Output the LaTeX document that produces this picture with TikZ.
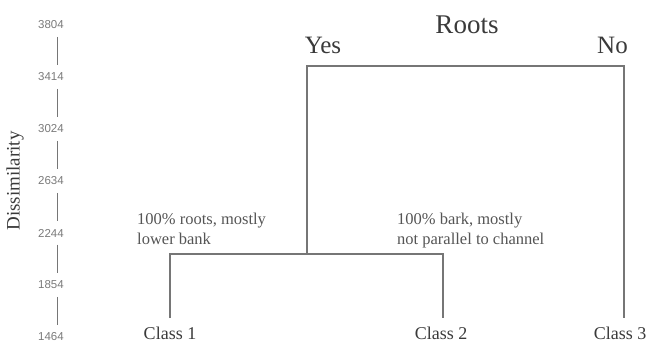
\documentclass[tikz,border=0pt]{standalone}
\usepackage{fontspec}
\setmainfont{Liberation Serif}
\newfontfamily\axisfont{Liberation Sans}
\definecolor{linegray}{HTML}{767676}
\definecolor{notegray}{HTML}{555555}
\definecolor{ticktext}{HTML}{7A7A7A}
\definecolor{labeltext}{HTML}{3A3A3A}
\begin{document}
\begin{tikzpicture}[x=1pt, y=-1pt,
    branch/.style={draw=linegray, line width=1.4pt},
    classlabel/.style={anchor=base, font=\fontsize{18}{20}\selectfont, text=labeltext, inner sep=0pt},
    note/.style={anchor=north west, align=left, font=\fontsize{16.5}{20}\selectfont, text=notegray, inner sep=0pt},
    answer/.style={anchor=base, font=\fontsize{25}{27}\selectfont, text=labeltext, inner sep=0pt},
    ticklabel/.style={font=\axisfont\fontsize{11.5}{13}\selectfont, text=ticktext, inner sep=0pt}]

    \useasboundingbox (0,0) rectangle (646,343);

    % dissimilarity axis
    \node[rotate=90, font=\fontsize{19}{21}\selectfont, text=labeltext] (ylabel) at (15,181) {Dissimilarity};
    \foreach \v [count=\i from 0] in {3804,3414,3024,2634,2244,1854,1464}
        \node[ticklabel] (t\i) at (51,{25+52*\i}) {\v};
    \foreach \i [evaluate=\i as \j using int(\i+1)] in {0,...,5}
        \draw[linegray, line width=1pt, shorten <=7.5pt, shorten >=7.5pt]
            ([xshift=6pt]t\i.south) -- ([xshift=6pt]t\j.north);

    % dendrogram
    \coordinate (leaf1) at (170,318);
    \coordinate (leaf2) at (443,318);
    \coordinate (leaf3) at (624,318);
    \coordinate (join12) at (307,254);
    \coordinate (rootL) at (307,66);
    \coordinate (rootR) at (624,66);

    \draw[branch] (leaf1) |- (join12) -| (leaf2);
    \draw[branch] (join12) -- (rootL) -- (rootR) -- (leaf3);

    \node[classlabel] (class1) at (170,339) {Class 1};
    \node[classlabel] (class2) at (441,339) {Class 2};
    \node[classlabel] (class3) at (620,339) {Class 3};

    \node[answer, font=\fontsize{27}{29}\selectfont] (roots) at (467,33) {Roots};
    \node[answer] (yes) at (323,53) {Yes};
    \node[answer, anchor=base west] (no) at (597,53) {No};

    \node[note] (note1) at (137,213) {100\% roots, mostly\\lower bank};
    \node[note] (note2) at (397,213) {100\% bark, mostly\\not parallel to channel};
\end{tikzpicture}
\end{document}
